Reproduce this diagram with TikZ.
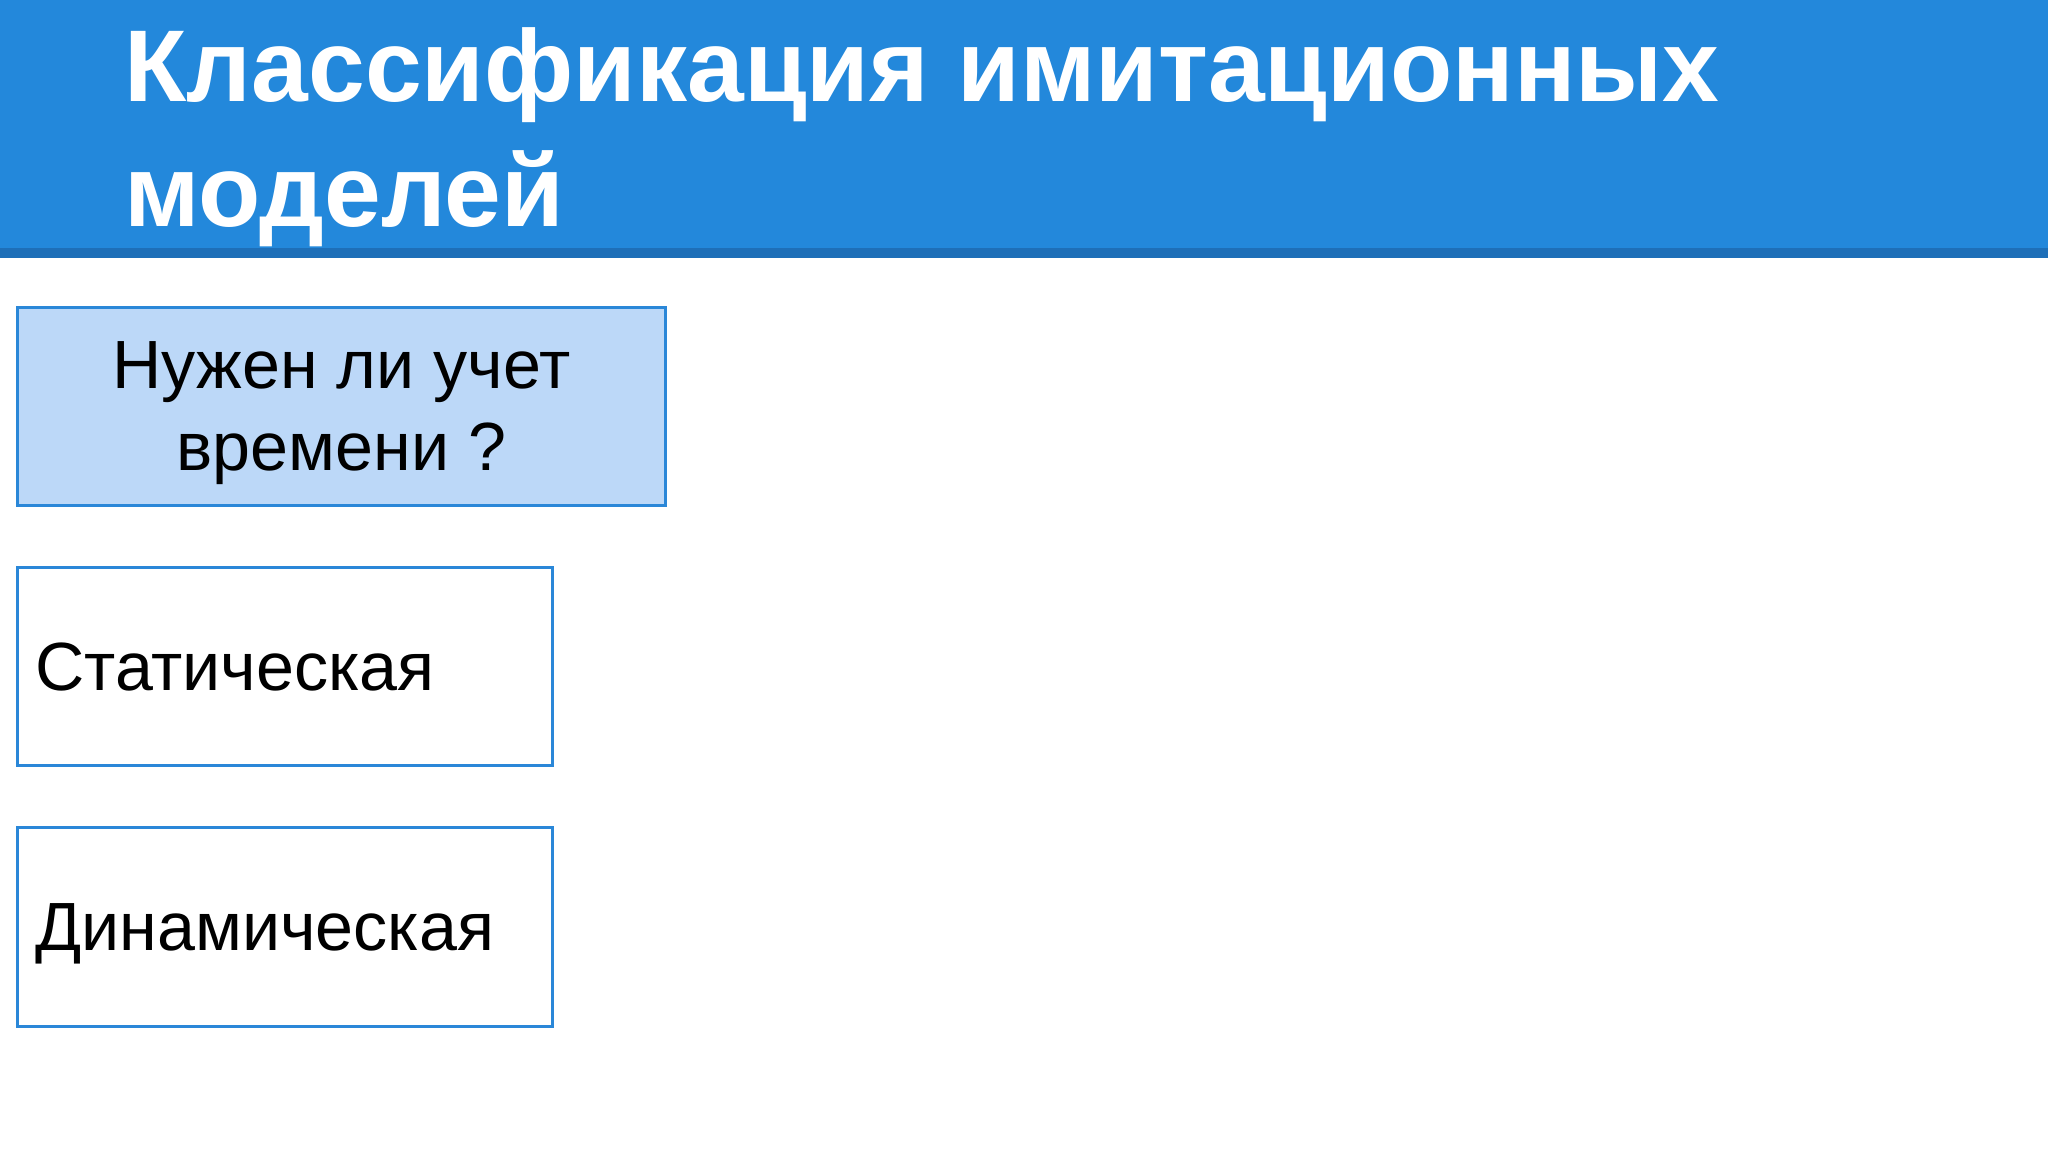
\documentclass[tikz,border=0pt]{standalone}
\usepackage{fontspec}
\setmainfont{Liberation Sans}
\definecolor{headblue}{HTML}{2388DB}
\definecolor{headstrip}{HTML}{1E6FB8}
\definecolor{boxline}{HTML}{2A87D8}
\definecolor{boxfill}{HTML}{BCD8F8}

\tikzset{
  titletext/.style={text=white, align=left, inner sep=0pt,
    font=\fontsize{29pt}{35.6pt}\selectfont\bfseries},
  qbox/.style={draw=boxline, fill=boxfill, line width=0.3mm,
    minimum width=6.48cm, minimum height=1.98cm, inner sep=0pt, align=center,
    text depth=-0.1cm, font=\fontsize{19.4pt}{23.3pt}\selectfont},
  kindbox/.style={draw=boxline, fill=white, line width=0.3mm,
    minimum width=5.35cm, minimum height=1.98cm, inner xsep=0.18cm, inner ysep=0pt,
    text width=4.99cm, align=left, text depth=-0.06cm,
    font=\fontsize{19.4pt}{23.3pt}\selectfont}
}

\begin{document}
\begin{tikzpicture}[x=0.01cm, y=-0.01cm]
\fill[white] (0,0) rectangle (2048,1152);
\useasboundingbox (0,0) rectangle (2048,1152);

% header
{
\fill[headblue] (0,0) rectangle (2048,248);
\fill[headstrip] (0,248) rectangle (2048,258);
}

% title, anchored on the baseline of its last line
\node[titletext, anchor=base west] (title) at (124,227) {Классификация имитационных\\моделей};

% boxes
{
\node[qbox] (question) at (341.5,406.5) {Нужен ли учет\\времени ?};
\node[kindbox] (static) at (285,666.5) {Статическая};
\node[kindbox] (dynamic) at (285,927) {Динамическая};
}
\end{tikzpicture}
\end{document}
